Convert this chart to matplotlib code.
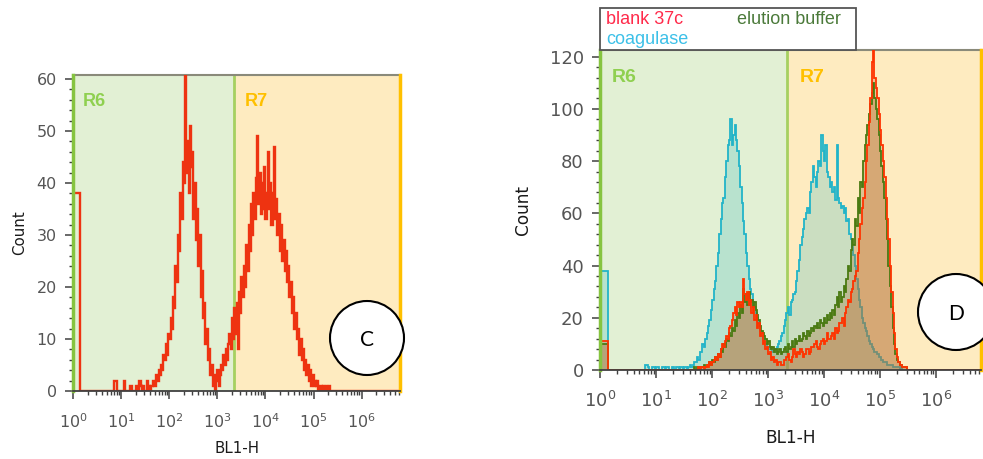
import numpy as np
import matplotlib
matplotlib.use("Agg")
import matplotlib.pyplot as plt
from matplotlib.patches import Ellipse, Rectangle
from matplotlib.ticker import FixedLocator, MultipleLocator, LogLocator, LogFormatterSciNotation, NullFormatter

plt.rcParams['font.family'] = ['Liberation Sans', 'DejaVu Sans']
plt.rcParams['mathtext.fontset'] = 'dejavusans'

# ---------------- data ----------------
# histogram bins: first "low" bin from 10^0 to 10^low_bin_log, then regular
# log bins of width bin_log_width starting at 10^bin_log_start (8 bins per row)
low_bin_log = 0.13
bin_log_start = 0.70
bin_log_width = 0.025
x_max_log = 6.8
gate_r6_r7 = 2200          # BL1-H boundary between gates R6 and R7
x_ticks = [1, 10, 100, 1000, 1e4, 1e5, 1e6]
y_ticks_C = [0, 10, 20, 30, 40, 50, 60]
y_ticks_D = [0, 20, 40, 60, 80, 100, 120]

# Panel C: blank (red)
blank_C_low = 38
blank_C = [0, 0, 0, 0, 0, 0, 2, 2,
           0, 0, 0, 0, 0, 0, 2, 0,
           0, 0, 0, 1, 1, 0, 0, 0,
           1, 0, 0, 2, 1, 0, 1, 0,
           0, 2, 0, 1, 0, 1, 2, 1,
           1, 3, 2, 4, 3, 5, 4, 7,
           6, 9, 7, 11, 10, 14, 12, 18,
           16, 24, 21, 30, 27, 38, 33, 44,
           40, 63, 42, 48, 38, 51, 43, 46,
           33, 40, 29, 35, 24, 30, 18, 23,
           14, 17, 9, 12, 6, 8, 3, 5,
           1, 3, 0, 2, 4, 1, 3, 5,
           4, 7, 5, 8, 6, 9, 11, 8,
           14, 10, 16, 11, 17, 8, 19, 15,
           22, 18, 24, 20, 28, 23, 32, 27,
           36, 30, 38, 33, 41, 49, 36, 42,
           34, 40, 35, 43, 33, 38, 46, 35,
           40, 32, 38, 47, 33, 37, 30, 34,
           27, 32, 25, 29, 23, 27, 21, 24,
           18, 21, 15, 18, 12, 15, 10, 12,
           7, 10, 6, 8, 4, 6, 3, 5,
           2, 4, 1, 3, 1, 2, 1, 2,
           0, 1, 1, 0, 1, 0, 1, 0,
           0, 1, 0, 0, 0, 0, 0, 0,
           0, 0, 0, 0, 0, 0, 0, 0]

# Panel D
coagulase_low = 38
coagulase = [0, 0, 0, 0, 2, 2, 1, 0,
             0, 1, 1, 0, 1, 1, 0, 0,
             1, 1, 0, 1, 1, 0, 0, 1,
             1, 0, 1, 1, 0, 1, 1, 0,
             1, 1, 0, 1, 2, 1, 2, 3,
             3, 5, 4, 7, 7, 10, 9, 12,
             14, 17, 19, 23, 27, 31, 34, 40,
             45, 52, 58, 64, 66, 74, 80, 86,
             88, 96, 86, 90, 94, 88, 84, 78,
             70, 64, 57, 52, 45, 40, 35, 31,
             29, 26, 24, 22, 20, 17, 15, 13,
             12, 11, 10, 9, 8, 8, 9, 7,
             8, 7, 9, 10, 11, 13, 14, 17,
             19, 22, 24, 21, 26, 27, 29, 30,
             34, 38, 42, 48, 51, 54, 58, 60,
             62, 60, 68, 72, 78, 74, 70, 76,
             80, 78, 90, 84, 80, 86, 76, 74,
             70, 72, 68, 70, 65, 86, 66, 64,
             62, 63, 60, 62, 57, 58, 52, 50,
             47, 44, 40, 35, 31, 27, 24, 20,
             18, 16, 15, 13, 11, 10, 9, 8,
             7, 7, 6, 5, 5, 4, 3, 3,
             3, 2, 2, 2, 2, 1, 1, 1,
             1, 1, 0, 1, 0, 0, 0, 0,
             0, 0, 0, 0, 0, 0, 0, 0]

elution_low = 10
elution = [0, 0, 0, 0, 0, 0, 0, 0,
           0, 0, 0, 0, 0, 0, 0, 0,
           0, 0, 0, 0, 0, 0, 0, 0,
           0, 0, 0, 0, 0, 0, 0, 0,
           0, 0, 0, 0, 0, 0, 0, 1,
           0, 1, 0, 1, 1, 1, 2, 1,
           2, 2, 3, 2, 4, 3, 5, 4,
           6, 5, 8, 7, 10, 9, 12, 11,
           14, 13, 16, 15, 19, 17, 22, 20,
           25, 22, 31, 26, 29, 25, 30, 26,
           27, 24, 26, 23, 21, 19, 17, 15,
           14, 13, 12, 10, 11, 9, 8, 9,
           7, 8, 6, 7, 8, 6, 7, 8,
           9, 7, 10, 8, 9, 11, 9, 12,
           10, 11, 13, 11, 12, 14, 13, 12,
           15, 13, 14, 16, 15, 17, 16, 18,
           16, 19, 18, 17, 20, 18, 21, 19,
           22, 20, 23, 21, 25, 28, 24, 30,
           26, 28, 32, 30, 35, 40, 38, 46,
           50, 48, 58, 55, 66, 60, 72, 70,
           80, 86, 90, 94, 98, 102, 106, 110,
           104, 100, 96, 90, 84, 78, 72, 66,
           58, 50, 40, 32, 24, 16, 10, 6,
           4, 3, 2, 2, 1, 1, 1, 0,
           0, 0, 0, 0, 0, 0, 0, 0]

blank_D_low = 11
blank_D = [0, 0, 0, 0, 0, 0, 0, 0,
           0, 0, 0, 0, 0, 0, 0, 0,
           0, 0, 0, 0, 0, 0, 0, 0,
           0, 0, 0, 0, 0, 0, 0, 0,
           0, 0, 0, 0, 0, 0, 0, 0,
           0, 0, 1, 0, 1, 1, 0, 1,
           2, 1, 3, 2, 3, 4, 5, 4,
           6, 5, 8, 10, 9, 11, 13, 12,
           16, 17, 19, 22, 24, 21, 26, 24,
           26, 24, 35, 29, 27, 30, 25, 27,
           22, 24, 19, 21, 16, 18, 13, 14,
           10, 11, 8, 9, 6, 7, 4, 5,
           3, 4, 2, 3, 3, 2, 2, 4,
           4, 5, 6, 4, 3, 5, 8, 6,
           5, 7, 6, 8, 7, 5, 6, 8,
           8, 6, 7, 9, 9, 10, 11, 9,
           8, 10, 11, 12, 10, 11, 14, 12,
           12, 13, 14, 12, 16, 14, 15, 18,
           18, 20, 17, 22, 24, 27, 26, 30,
           31, 34, 36, 38, 45, 50, 56, 62,
           66, 72, 80, 86, 95, 104, 118, 124,
           112, 108, 104, 98, 92, 86, 80, 74,
           66, 58, 50, 40, 30, 22, 14, 8,
           5, 3, 2, 2, 1, 1, 1, 0,
           0, 0, 0, 0, 0, 0, 0, 0]

legend_labels = ["blank 37c", "elution buffer", "coagulase"]


def hist_steps(low, series):
    n = len(series)
    logs = [0.0, low_bin_log] + [bin_log_start + bin_log_width * i for i in range(n + 1)] + [x_max_log]
    edges = 10 ** np.array(logs)
    values = np.array([low, 0] + list(series) + [0], dtype=float)
    return values, edges


W, H = 983, 459
fig = plt.figure(figsize=(W / 100, H / 100), dpi=100)
fig.patch.set_facecolor("white")


def px_rect(x0, y_top, x1, y_bot):
    return [x0 / W, 1 - y_bot / H, (x1 - x0) / W, (y_bot - y_top) / H]


def style_axes(ax, ymax, yticks, yminor, fs_tick, fs_label, fs_gate, ylab_xy, xlab_xy):
    xmax = 10 ** x_max_log
    ax.set_xscale("log")
    ax.set_xlim(1, xmax)
    ax.set_ylim(0, ymax)
    ax.axvspan(1, gate_r6_r7, color="#e2f0d4", zorder=0, lw=0)
    ax.axvspan(gate_r6_r7, xmax, color="#feebc0", zorder=0, lw=0)
    ax.axvline(gate_r6_r7, color="#a6d060", lw=2, zorder=1)
    ax.axvline(1.0, color="#86c440", lw=2.5, zorder=6, clip_on=False)
    ax.axvline(xmax, color="#ffc000", lw=2.5, zorder=6, clip_on=False)
    for s in ["left", "right"]:
        ax.spines[s].set_visible(False)
    ax.spines["top"].set_color("#8a8a7a")
    ax.spines["top"].set_linewidth(1.5)
    ax.spines["bottom"].set_color("#404040")
    ax.spines["bottom"].set_linewidth(1.3)
    ax.spines["bottom"].set_zorder(7)
    ax.xaxis.set_major_locator(FixedLocator(x_ticks))
    ax.xaxis.set_major_formatter(LogFormatterSciNotation())
    ax.xaxis.set_minor_locator(LogLocator(base=10, subs=np.arange(2, 10), numticks=20))
    ax.xaxis.set_minor_formatter(NullFormatter())
    ax.yaxis.set_major_locator(FixedLocator(yticks))
    ax.yaxis.set_minor_locator(MultipleLocator(yminor))
    ax.tick_params(which="major", direction="out", length=6, width=1.1, color="#404040",
                   labelsize=fs_tick, labelcolor="#555555", labelfontfamily="DejaVu Sans")
    ax.tick_params(which="minor", direction="out", length=3, width=1.0, color="#404040")
    ax.tick_params(axis="y", which="major", pad=6)
    ax.tick_params(axis="x", which="major", pad=9)
    ax.set_ylabel("Count", fontsize=fs_label, color="#1a1a1a", family="DejaVu Sans")
    ax.set_xlabel("BL1-H", fontsize=fs_label, color="#1a1a1a", family="DejaVu Sans")
    ax.yaxis.set_label_coords(*ylab_xy)
    ax.xaxis.set_label_coords(*xlab_xy)
    ax.text(0.03, 0.915, "R6", transform=ax.transAxes, color="#8fd050", fontsize=fs_gate,
            fontweight="bold", va="center", ha="left", zorder=3)
    ax.text(0.525, 0.915, "R7", transform=ax.transAxes, color="#ffc000", fontsize=fs_gate,
            fontweight="bold", va="center", ha="left", zorder=3)


# ---------------- Panel C ----------------
axC = fig.add_axes(px_rect(73.3, 75, 400, 391))
style_axes(axC, 60.77, y_ticks_C, 2, 11.5, 10.8, 13, (-0.142, 0.5), (0.5, -0.158))
v, e = hist_steps(blank_C_low, blank_C)
axC.stairs(v, e, color="#ee3311", lw=1.7, zorder=4, baseline=0)

# ---------------- Panel D ----------------
axD = fig.add_axes(px_rect(600.3, 50, 980.7, 370))
style_axes(axD, 122.56, y_ticks_D, 4, 13, 12.2, 14, (-0.18, 0.5), (0.5, -0.183))

v, e = hist_steps(coagulase_low, coagulase)
axD.stairs(v, e, fill=True, color="#6cc8c4", alpha=0.35, zorder=2, lw=0)
axD.stairs(v, e, color="#22b4c8", lw=1.3, zorder=3, baseline=0)

v, e = hist_steps(elution_low, elution)
axD.stairs(v, e, fill=True, color="#a07a40", alpha=0.35, zorder=4, lw=0)
axD.stairs(v, e, color="#4a7a12", lw=1.3, zorder=5, baseline=0)

v, e = hist_steps(blank_D_low, blank_D)
axD.stairs(v, e, fill=True, color="#c86a30", alpha=0.30, zorder=4.5, lw=0)
axD.stairs(v, e, color="#ff3300", lw=1.3, zorder=5.5, baseline=0)

# legend box above panel D
fig.add_artist(Rectangle((600 / W, 1 - 50 / H), 256 / W, 42 / H, transform=fig.transFigure,
                         facecolor="white", edgecolor="#555555", lw=1.3, zorder=10))
fig.text(606 / W, 1 - 19 / H, legend_labels[0], color="#ff2a4a", fontsize=13,
         va="center", ha="left", zorder=11)
fig.text(737 / W, 1 - 19 / H, legend_labels[1], color="#4b7a3a", fontsize=13,
         va="center", ha="left", zorder=11)
fig.text(606 / W, 1 - 39 / H, legend_labels[2], color="#3cc0e8", fontsize=13,
         va="center", ha="left", zorder=11)

# panel markers
for (cx, cy, r, letter) in [(367, 338, 37, "C"), (956, 312, 38, "D")]:
    fig.add_artist(Ellipse((cx / W, 1 - cy / H), 2 * r / W, 2 * r / H, transform=fig.transFigure,
                           facecolor="white", edgecolor="black", lw=1.5, zorder=20))
    fig.text(cx / W, 1 - (cy + 2) / H, letter, fontsize=15, family=["Lato", "DejaVu Sans"],
             ha="center", va="center", zorder=21)

fig.savefig("out.png", dpi=100)
